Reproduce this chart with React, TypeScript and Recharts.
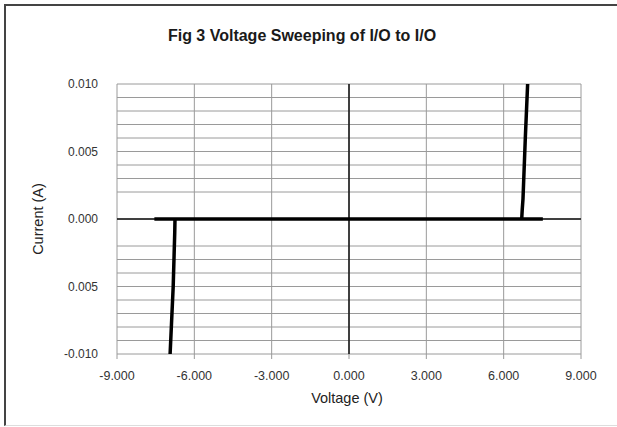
import React from "react";
import { LineChart, Line, XAxis, YAxis, CartesianGrid, ReferenceLine } from "recharts";

const xTicks = [-9, -6, -3, 0, 3, 6, 9];
const yTicks = [
  -0.01, -0.009, -0.008, -0.007, -0.006, -0.005, -0.004, -0.003, -0.002, 0, 0.002, 0.003, 0.004,
  0.005, 0.006, 0.007, 0.008, 0.009, 0.01,
];
// labelled ticks, text as printed in the figure
const yLabelValues = [0.01, 0.005, 0, -0.005, -0.01];
const yLabelTexts = ["0.010", "0.005", "0.000", "0.005", "-0.010"];

// flat part of the sweep (no current)
const flatVoltage = [-7.55, 7.52];
const flatCurrent = [0, 0];
// breakdown on the negative side
const negVoltage = [-6.75, -6.76, -6.82, -6.88, -6.94];
const negCurrent = [0, -0.001, -0.005, -0.0075, -0.01];
// breakdown on the positive side
const posVoltage = [6.7, 6.72, 6.75, 6.84, 6.93];
const posCurrent = [0, 0.0007, 0.0015, 0.006, 0.01];

const toRows = (v: number[], i: number[]) => v.map((x, k) => ({ v: x, i: i[k] }));

const flatRows = toRows(flatVoltage, flatCurrent);
const negRows = toRows(negVoltage, negCurrent);
const posRows = toRows(posVoltage, posCurrent);

const FONT = "'Liberation Sans', Arial, sans-serif";

function YTick(props: any) {
  const { x, y, payload } = props;
  const idx = yLabelValues.findIndex((val) => Math.abs(val - payload.value) < 1e-9);
  if (idx < 0) return null;
  return (
    <text x={x} y={y} dy={4} textAnchor="end" fontSize={12} fill="#333" fontFamily={FONT}>
      {yLabelTexts[idx]}
    </text>
  );
}

export default function App() {
  return (
    <div
      style={{
        position: "absolute",
        left: 0,
        top: 0,
        width: 617,
        height: 427,
        background: "#fff",
        fontFamily: FONT,
      }}
    >
      <div
        style={{
          position: "absolute",
          left: 4,
          top: 4,
          width: 611,
          height: 419,
          borderTop: "2px solid #444",
          borderLeft: "2px solid #444",
          borderRight: "1px solid #ddd",
          borderBottom: "1px solid #ddd",
        }}
      />
      <div
        style={{
          position: "absolute",
          left: 0,
          top: 27,
          width: 604,
          textAlign: "center",
          fontSize: 16,
          fontWeight: "bold",
          color: "#1a1a1a",
        }}
      >
        Fig 3 Voltage Sweeping of I/O to I/O
      </div>
      <div
        style={{
          position: "absolute",
          left: 38,
          top: 219,
          transform: "translate(-50%, -50%) rotate(-90deg)",
          fontSize: 14.5,
          color: "#222",
          whiteSpace: "nowrap",
        }}
      >
        Current (A)
      </div>
      <div
        style={{
          position: "absolute",
          left: 347,
          top: 398,
          transform: "translate(-50%, -50%)",
          fontSize: 14.5,
          color: "#222",
          whiteSpace: "nowrap",
        }}
      >
        Voltage (V)
      </div>
      <div style={{ position: "absolute", left: 0, top: 0 }}>
        <LineChart width={617} height={427} margin={{ top: 84, right: 36, bottom: 43, left: 57 }}>
          <CartesianGrid stroke="#9a9a9a" strokeWidth={1} />
          <XAxis
            type="number"
            dataKey="v"
            domain={[-9, 9]}
            ticks={xTicks}
            allowDataOverflow
            height={30}
            axisLine={false}
            tickLine={{ stroke: "#9a9a9a" }}
            tickSize={5}
            tickMargin={12}
            tickFormatter={(v: number) => v.toFixed(3)}
            tick={{ fontSize: 12.5, fill: "#333", fontFamily: FONT }}
          />
          <YAxis
            type="number"
            dataKey="i"
            domain={[-0.01, 0.01]}
            ticks={yTicks}
            interval={0}
            allowDataOverflow
            width={60}
            axisLine={false}
            tickLine={false}
            tickSize={0}
            tickMargin={19}
            tick={<YTick />}
          />
          <ReferenceLine x={0} stroke="#111" strokeWidth={1.5} />
          <ReferenceLine y={0} stroke="#111" strokeWidth={1.5} />
          <Line data={flatRows} dataKey="i" stroke="#000" strokeWidth={3.5} dot={false} isAnimationActive={false} />
          <Line data={negRows} dataKey="i" stroke="#000" strokeWidth={3.5} dot={false} isAnimationActive={false} />
          <Line data={posRows} dataKey="i" stroke="#000" strokeWidth={3.5} dot={false} isAnimationActive={false} />
        </LineChart>
      </div>
    </div>
  );
}
